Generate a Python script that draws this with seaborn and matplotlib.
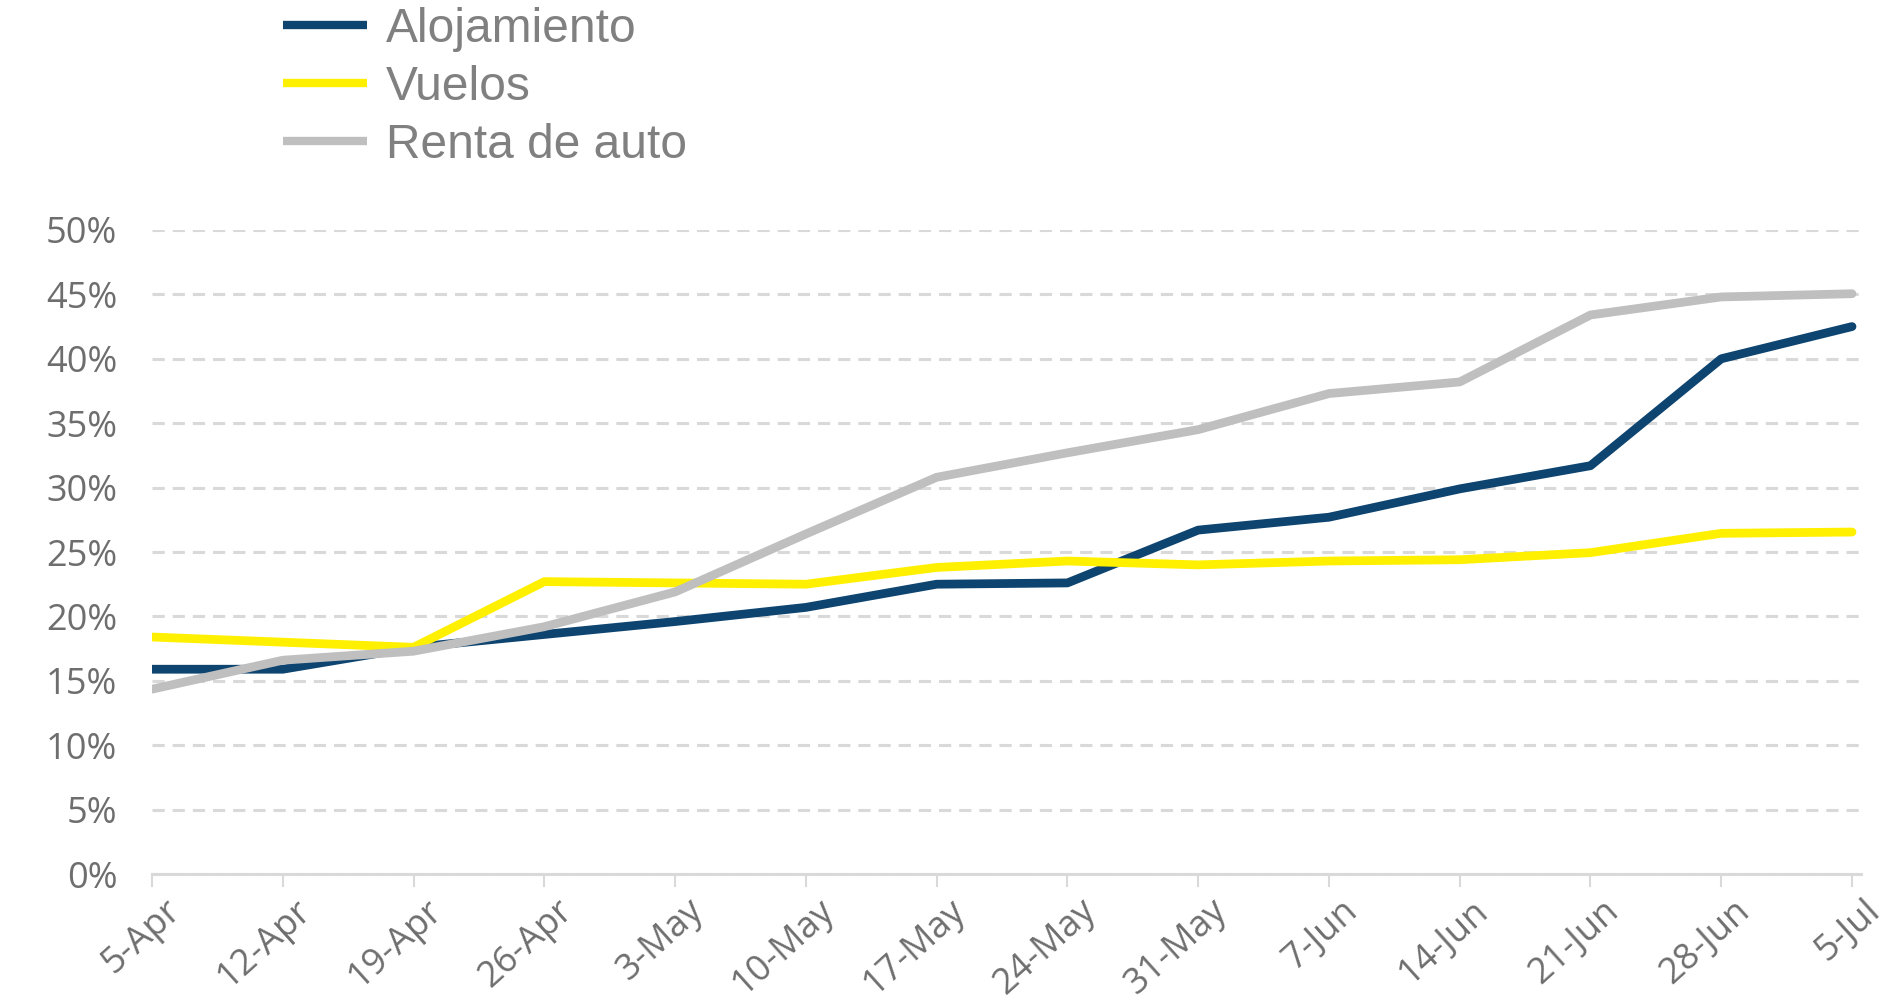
import matplotlib
matplotlib.use("Agg")
import matplotlib.pyplot as plt
import matplotlib.transforms as mtransforms
import seaborn as sns
import pandas as pd

# values (percent)
dates = ["5-Apr", "12-Apr", "19-Apr", "26-Apr", "3-May", "10-May", "17-May",
         "24-May", "31-May", "7-Jun", "14-Jun", "21-Jun", "28-Jun", "5-Jul"]
alojamiento = [15.9, 15.9, 17.6, 18.6, 19.6, 20.7, 22.5, 22.6, 26.7, 27.7, 29.9, 31.7, 40.0, 42.5]
vuelos = [18.4, 18.0, 17.6, 22.7, 22.6, 22.5, 23.8, 24.3, 24.0, 24.3, 24.4, 24.95, 26.45, 26.55]
renta_auto = [14.35, 16.6, 17.3, 19.2, 21.9, 26.4, 30.8, 32.7, 34.5, 37.3, 38.2, 43.4, 44.8, 45.05]
series_names = ["Alojamiento", "Vuelos", "Renta de auto"]
colors = ["#0E4470", "#FFF000", "#BFBFBF"]
y_ticks = [0, 5, 10, 15, 20, 25, 30, 35, 40, 45, 50]

sns.set_theme(style="white")
plt.rcParams["font.family"] = ["Open Sans", "DejaVu Sans"]

df = pd.DataFrame({
    "x": list(range(len(dates))) * 3,
    "value": alojamiento + vuelos + renta_auto,
    "serie": [s for s in series_names for _ in dates],
})

fig = plt.figure(figsize=(18.98, 10.02), dpi=100)
ax = fig.add_axes([0.0801, 0.1277, 0.9005, 0.6428])

sns.lineplot(data=df, x="x", y="value", hue="serie", hue_order=series_names,
             palette=colors, linewidth=6.3, ax=ax, legend=False,
             solid_capstyle="round")

ax.set_xlim(0, 13.07)
ax.set_ylim(0, 50)
ax.set_yticks(y_ticks)
ax.set_yticklabels([f"{v}%" for v in y_ticks])
ax.set_xticks(range(len(dates)))
ax.set_xticklabels(dates, rotation=42, ha="right", va="center",
                   rotation_mode="anchor")
ax.set_xlabel("")
ax.set_ylabel("")

ax.yaxis.grid(True, color="#D9D9D9", linewidth=2.2, linestyle=(0, (4, 2.6)))
ax.xaxis.grid(False)
for s in ["top", "right", "left"]:
    ax.spines[s].set_visible(False)
ax.spines["bottom"].set_color("#D9D9D9")
ax.spines["bottom"].set_linewidth(2.2)

ax.tick_params(axis="y", length=0, pad=25, labelsize=26, labelcolor="#6E6E6E")
ax.tick_params(axis="x", bottom=True, length=9, width=1.5, color="#D9D9D9",
               pad=14, labelsize=26, labelcolor="#6E6E6E")

# nudge the rotated date labels to the right, like the reference
shift = mtransforms.ScaledTranslation(24 / 100, 0, fig.dpi_scale_trans)
for lab in ax.get_xticklabels():
    lab.set_transform(lab.get_transform() + shift)

# legend in the top-left, outside the plot area
handles = [plt.Line2D([], [], color=c, linewidth=6, solid_capstyle="butt")
           for c in colors]
fig.legend(handles, series_names, loc="upper left",
           bbox_to_anchor=(0.149, 0.993), frameon=False,
           labelcolor="#808080", handlelength=1.75, handletextpad=0.4,
           labelspacing=0.27, borderpad=0.0, borderaxespad=0.0,
           prop={"family": ["Liberation Sans", "DejaVu Sans"], "size": 34.5})

fig.savefig("out.png", dpi=100)
